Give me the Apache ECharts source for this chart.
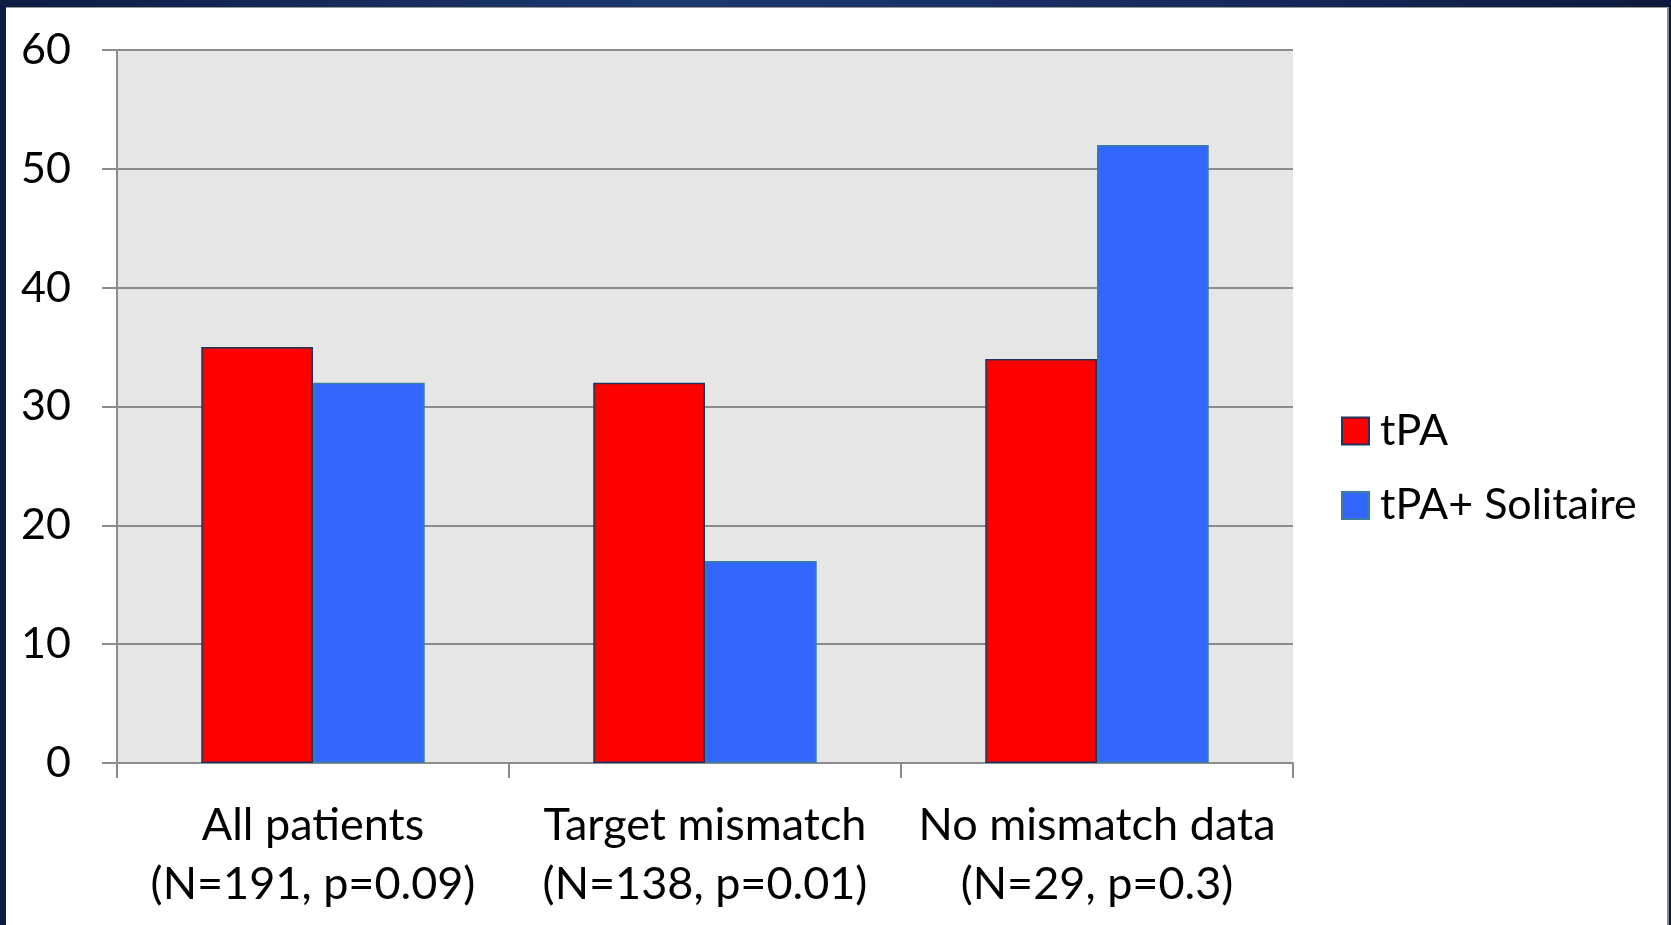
<!DOCTYPE html>
<html>
<head>
<meta charset="utf-8">
<script src="https://cdn.jsdelivr.net/npm/echarts@6/dist/echarts.min.js"></script>
<style>
  html, body { margin: 0; padding: 0; width: 1671px; height: 925px; overflow: hidden; }
  body { background: linear-gradient(90deg, #0c1c44 0%, #1d3a6d 40%, #15295a 75%, #0d1a3c 100%); position: relative; }
  #frame { position: absolute; left: 6px; top: 7px; width: 1663px; height: 918px; background: #ffffff;
           border-top: 1px solid #9a9a9a; border-right: 2px solid #8a8a8a; box-sizing: border-box; }
  #chart { position: absolute; left: 0; top: 0; width: 1671px; height: 925px; }
</style>
</head>
<body>
<div id="frame"></div>
<div id="chart"></div>
<script>
// Groups shown along the horizontal axis (two-line labels)
const categories = [
  'All patients\n(N=191, p=0.09)',
  'Target mismatch\n(N=138, p=0.01)',
  'No mismatch data\n(N=29, p=0.3)'
];
// Percentages per treatment arm
const tpaValues = [35, 32, 34];
const solitaireValues = [32, 17, 52];
const seriesNames = ['tPA', 'tPA+ Solitaire'];
const yTicks = { min: 0, max: 60, interval: 10 };

const FONT = 'Lato, "Open Sans", sans-serif';

const chart = echarts.init(document.getElementById('chart'), null, { renderer: 'canvas' });

chart.setOption({
  backgroundColor: 'transparent',
  animation: false,
  textStyle: { fontFamily: FONT, color: '#000' },
  grid: {
    left: 117, top: 50, width: 1176, height: 713,
    show: true, backgroundColor: '#e6e6e6', borderWidth: 0
  },
  legend: {
    orient: 'vertical',
    left: 1336, top: 404,
    itemWidth: 27, itemHeight: 27, itemGap: 30.5,
    icon: 'rect',
    textStyle: { fontFamily: FONT, fontSize: 43, color: '#000', lineHeight: 44, padding: [0, 0, 0, 6] },
    data: seriesNames
  },
  xAxis: {
    type: 'category',
    data: categories,
    axisLine: { show: true, lineStyle: { color: '#8c8c8c', width: 2 } },
    axisTick: { show: true, length: 15, lineStyle: { color: '#8c8c8c', width: 2 } },
    axisLabel: { fontFamily: FONT, fontSize: 45, color: '#000', lineHeight: 59, margin: 33, interval: 0 }
  },
  yAxis: {
    type: 'value',
    min: yTicks.min, max: yTicks.max, interval: yTicks.interval,
    axisLine: { show: true, lineStyle: { color: '#8c8c8c', width: 2 } },
    axisTick: { show: true, length: 15, lineStyle: { color: '#8c8c8c', width: 2 } },
    splitLine: { show: true, lineStyle: { color: '#8c8c8c', width: 2 } },
    axisLabel: { fontFamily: FONT, fontSize: 43, color: '#000', margin: 46 }
  },
  series: [
    {
      name: seriesNames[0], type: 'bar', data: tpaValues,
      barGap: '0%', barCategoryGap: '43%',
      itemStyle: { color: '#ff0000', borderColor: '#1f3458', borderWidth: 1.5 }
    },
    {
      name: seriesNames[1], type: 'bar', data: solitaireValues,
      barGap: '0%', barCategoryGap: '43%',
      itemStyle: { color: '#3366ff', borderColor: '#3a7f9e', borderWidth: 1.5 }
    }
  ]
});
</script>
</body>
</html>
